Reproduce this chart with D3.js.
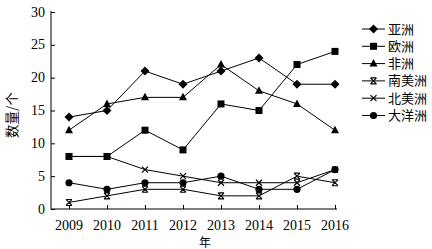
<!DOCTYPE html>
<html><head><meta charset="utf-8">
<script src="https://cdn.jsdelivr.net/npm/d3@7/dist/d3.min.js"></script>
<style>body{margin:0;background:#fff}</style>
</head><body>
<svg id="c" width="432" height="249"></svg>
<script>
const years = [2009, 2010, 2011, 2012, 2013, 2014, 2015, 2016];
const seriesNames = ["亚洲", "欧洲", "非洲", "南美洲", "北美洲", "大洋洲"];
const asia = [14, 15, 21, 19, 21, 23, 19, 19];
const europe = [8, 8, 12, 9, 16, 15, 22, 24];
const africa = [12, 16, 17, 17, 22, 18, 16, 12];
const southAmerica = [1, 2, 3, 3, 2, 2, 5, 4];
const northAmerica = [8, 8, 6, 5, 4, 4, 4, 6];
const oceania = [4, 3, 4, 4, 5, 3, 3, 6];
const yTicks = [0, 5, 10, 15, 20, 25, 30];
const markers = ["diamond", "square", "triangle", "asterisk", "cross", "circle"];
const allSeries = [asia, europe, africa, southAmerica, northAmerica, oceania];

const svg = d3.select("#c");
const x = d3.scaleLinear().domain([2009, 2016]).range([69, 335]);
const y = d3.scaleLinear().domain([0, 30]).range([209, 12]);
const serif = "'Liberation Serif','DejaVu Serif',serif";
const cjk = "'Noto Sans CJK SC',sans-serif";

// axes
const gy = svg.append("g").attr("transform", "translate(51,0)")
  .call(d3.axisRight(y).tickValues(yTicks).tickSize(4).tickFormat(d3.format("d")));
gy.select(".domain").remove();
gy.selectAll("text").remove();
gy.selectAll("line").attr("stroke", "#000");
yTicks.forEach(t => {
  svg.append("text").attr("x", 45).attr("y", y(t) + 4.5).attr("text-anchor", "end")
    .attr("font-family", serif).attr("font-size", 14).attr("fill", "#000").text(t);
});
const gx = svg.append("g").attr("transform", "translate(0,209)")
  .call(d3.axisTop(x).tickValues(years).tickSize(4).tickFormat(d3.format("d")));
gx.select(".domain").remove();
gx.selectAll("text").remove();
gx.selectAll("line").attr("stroke", "#000");
years.forEach(t => {
  svg.append("text").attr("x", x(t)).attr("y", 230).attr("text-anchor", "middle")
    .attr("font-family", serif).attr("font-size", 14).attr("fill", "#000").text(t);
});
svg.append("line").attr("x1", 51).attr("x2", 51).attr("y1", 11).attr("y2", 209.5).attr("stroke", "#000");
svg.append("line").attr("x1", 51).attr("x2", 337).attr("y1", 209).attr("y2", 209).attr("stroke", "#000");

svg.append("text").attr("transform", "translate(17,115) rotate(-90)").attr("text-anchor", "middle")
  .attr("font-family", cjk).attr("font-size", 13.5).attr("fill", "#000").text("数量/个");
svg.append("text").attr("x", 205).attr("y", 247).attr("text-anchor", "middle")
  .attr("font-family", cjk).attr("font-size", 12).attr("fill", "#000").text("年");

function drawMarker(g, type, cx, cy) {
  if (type === "diamond") g.append("path").attr("d", `M${cx},${cy-4.5}L${cx+4.5},${cy}L${cx},${cy+4.5}L${cx-4.5},${cy}Z`).attr("fill", "#000");
  else if (type === "square") g.append("rect").attr("x", cx-3.5).attr("y", cy-3.5).attr("width", 7).attr("height", 7).attr("fill", "#000");
  else if (type === "triangle") g.append("path").attr("d", `M${cx},${cy-4.5}L${cx+4},${cy+3}L${cx-4},${cy+3}Z`).attr("fill", "#000");
  else if (type === "circle") g.append("circle").attr("cx", cx).attr("cy", cy).attr("r", 3.6).attr("fill", "#000");
  else if (type === "cross") g.append("path").attr("d", `M${cx-3},${cy-3}L${cx+3},${cy+3}M${cx-3},${cy+3}L${cx+3},${cy-3}`).attr("stroke", "#000").attr("stroke-width", 1.2);
  else if (type === "asterisk") g.append("path").attr("d", `M${cx-3},${cy-3}L${cx+3},${cy+3}M${cx-3},${cy+3}L${cx+3},${cy-3}M${cx-3},${cy-3}L${cx+3},${cy-3}M${cx-3},${cy+3}L${cx+3},${cy+3}`).attr("stroke", "#000").attr("stroke-width", 1.1);
}

const line = d3.line().x((d, i) => x(years[i])).y(d => y(d));
allSeries.forEach((vals, si) => {
  const g = svg.append("g");
  g.append("path").attr("d", line(vals)).attr("fill", "none").attr("stroke", "#000").attr("stroke-width", 1);
  vals.forEach((v, i) => drawMarker(g, markers[si], x(years[i]), y(v)));
});

// legend
seriesNames.forEach((name, i) => {
  const ly = 29 + i * 17.3;
  const g = svg.append("g");
  g.append("line").attr("x1", 362).attr("x2", 385).attr("y1", ly).attr("y2", ly).attr("stroke", "#000");
  drawMarker(g, markers[i], 373.5, ly);
  g.append("text").attr("x", 388).attr("y", ly + 4.5).attr("font-family", cjk).attr("font-size", 13).attr("fill", "#000").text(name);
});
</script>
</body></html>
